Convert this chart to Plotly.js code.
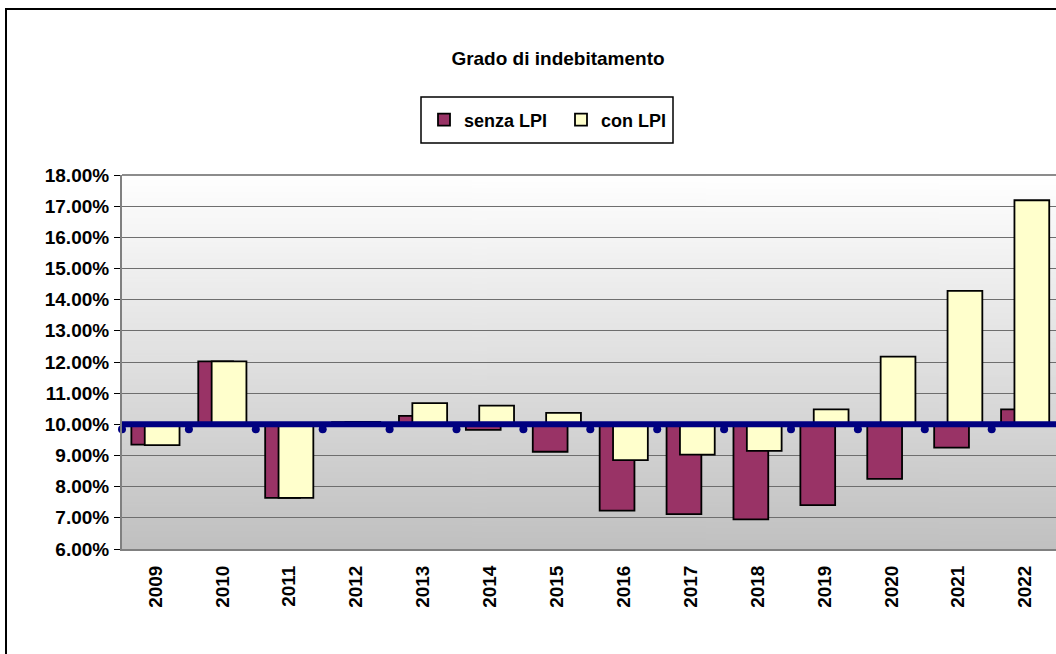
<!DOCTYPE html>
<html>
<head>
<meta charset="utf-8">
<script src="https://cdn.plot.ly/plotly-3.0.1.min.js"></script>
<style>
  html, body { margin: 0; padding: 0; background: #fff; overflow: hidden; }
  #wrap { position: relative; width: 1056px; height: 654px; overflow: hidden; }
  #chart { width: 1056px; height: 654px; }
  #frame { position: absolute; left: 5px; top: 8px; width: 1200px; height: 800px;
           border: 2px solid #000; pointer-events: none; box-sizing: border-box; }
</style>
</head>
<body>
<div id="wrap">
  <div id="chart"></div>
  <div id="frame"></div>
</div>
<script>
// ---- data (percent values) ----
const years = ["2009","2010","2011","2012","2013","2014","2015","2016","2017","2018","2019","2020","2021","2022"];
const senzaLPI = [9.35, 12.02, 7.64, 10.07, 10.27, 9.82, 9.12, 7.23, 7.12, 6.95, 7.41, 8.25, 9.25, 10.48];
const conLPI   = [9.33, 12.02, 7.64, 10.08, 10.68, 10.60, 10.37, 8.85, 9.03, 9.15, 10.48, 12.17, 14.28, 17.19];
const baseline = 10.00;
const seriesNames = ["senza LPI", "con LPI"];
const chartTitle = "Grado di indebitamento";

// ---- derived ----
const xs = years.map((_, i) => i);
const base = baseline / 100;
const boundaries = [];
for (let i = 0; i <= years.length; i++) boundaries.push(i - 0.5);

const FONT = { family: "Arial, 'Liberation Sans', sans-serif", size: 18, color: "#000", weight: "bold" };
const TICKFONT = Object.assign({}, FONT, { size: 19 });

// gradient background image
function gradientURL() {
  const c = document.createElement("canvas");
  c.width = 4; c.height = 256;
  const g = c.getContext("2d");
  const grd = g.createLinearGradient(0, 0, 0, 256);
  grd.addColorStop(0, "#ffffff");
  grd.addColorStop(1, "#c0c0c0");
  g.fillStyle = grd; g.fillRect(0, 0, 4, 256);
  return c.toDataURL("image/png");
}

const traces = [
  {
    type: "bar", name: seriesNames[0], x: xs,
    y: senzaLPI.map(v => v / 100 - base), base: base,
    width: 0.52, offset: -0.36,
    marker: { color: "#993366", line: { color: "#000", width: 1.8 } },
    hovertemplate: "%{x}: %{customdata:.2%}<extra></extra>",
    customdata: senzaLPI.map(v => v / 100)
  },
  {
    type: "bar", name: seriesNames[1], x: xs,
    y: conLPI.map(v => v / 100 - base), base: base,
    width: 0.52, offset: -0.16,
    marker: { color: "#FFFFCC", line: { color: "#000", width: 1.8 } },
    hovertemplate: "%{x}: %{customdata:.2%}<extra></extra>",
    customdata: conLPI.map(v => v / 100)
  },
  {
    type: "scatter", mode: "markers", showlegend: false, hoverinfo: "skip",
    x: boundaries, y: boundaries.map(() => base - 0.0016),
    marker: { color: "#000080", size: 8 }, cliponaxis: false
  },
  {
    type: "scatter", mode: "lines", showlegend: false, hoverinfo: "skip",
    x: boundaries, y: boundaries.map(() => base),
    line: { color: "#000080", width: 6 }, cliponaxis: false
  }
];

const L = 122, T = 175, B = 105, W = 1056, H = 654;
const pw = W - L, ph = H - T - B;
const px = v => (v - L) / pw;
const py = v => (H - B - v) / ph;

const layout = {
  width: W, height: H,
  margin: { l: L, r: 0, t: T, b: B, pad: 0 },
  paper_bgcolor: "#fff",
  plot_bgcolor: "rgba(0,0,0,0)",
  barmode: "overlay",
  title: {
    text: chartTitle, font: Object.assign({}, FONT, { size: 19 }),
    x: 558 / W, xanchor: "center", xref: "container",
    y: 1 - 58 / H, yanchor: "middle", yref: "container"
  },
  showlegend: true,
  legend: {
    orientation: "h", x: px(424), xanchor: "left", y: py(120), yanchor: "middle",
    bgcolor: "rgba(0,0,0,0)", borderwidth: 0, font: FONT,
    entrywidth: 92, traceorder: "normal"
  },
  xaxis: {
    range: [-0.5, -0.5 + pw / 66.9],
    tickvals: xs, ticktext: years, tickangle: -90,
    tickfont: TICKFONT, ticks: "", ticklabelstandoff: 7,
    showgrid: false, zeroline: false,
    showline: true, linecolor: "#808080", linewidth: 2,
    fixedrange: true
  },
  yaxis: {
    range: [0.06, 0.18], dtick: 0.01, tick0: 0.06, tickformat: ".2%",
    tickfont: TICKFONT, ticks: "outside", ticklen: 6, tickcolor: "#000", tickwidth: 1,
    ticklabelstandoff: 1,
    showgrid: true, gridcolor: "#6e6e6e", gridwidth: 1,
    zeroline: false, showline: true, linecolor: "#808080", linewidth: 2,
    fixedrange: true
  },
  images: [{
    source: gradientURL(), xref: "paper", yref: "paper",
    x: 0, y: 1, sizex: 1, sizey: 1, sizing: "stretch",
    xanchor: "left", yanchor: "top", layer: "below"
  }],
  shapes: [
    {
      type: "rect", xref: "paper", yref: "paper",
      x0: px(421), x1: px(673), y0: py(143), y1: py(97),
      line: { color: "#000", width: 1.5 }, fillcolor: "rgba(0,0,0,0)"
    },
    {
      type: "line", xref: "paper", yref: "paper", x0: 0, x1: 1, y0: 1, y1: 1,
      line: { color: "#8c8c8c", width: 2 }, layer: "below"
    }
  ]
};

Plotly.newPlot("chart", traces, layout, { displayModeBar: false, staticPlot: true });
</script>
</body>
</html>
